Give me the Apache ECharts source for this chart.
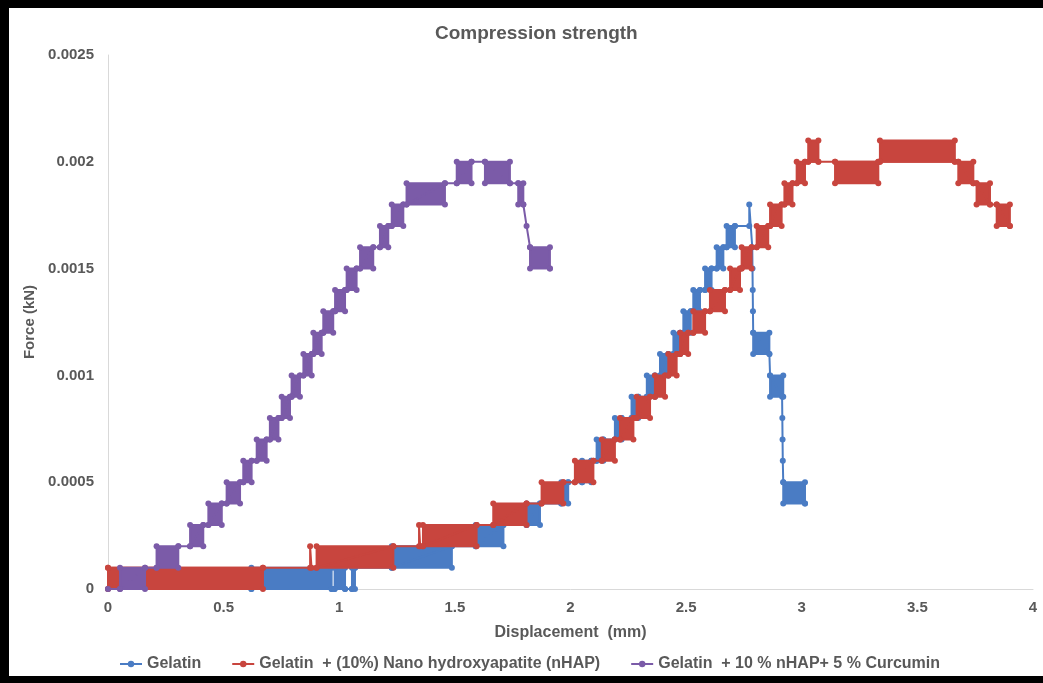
<!DOCTYPE html>
<html>
<head>
<meta charset="utf-8">
<script src="https://cdn.jsdelivr.net/npm/echarts@6/dist/echarts.min.js"></script>
<style>
html, body { margin: 0; padding: 0; background: #fff; }
#main { width: 1043px; height: 683px; }
</style>
</head>
<body>
<div id="main"></div>
<script>
// series names as in the legend
var seriesNames = ['Gelatin', 'Gelatin  + (10%) Nano hydroxyapatite (nHAP)', 'Gelatin  + 10 % nHAP+ 5 % Curcumin'];
var seriesColors = ['#4a7cc4', '#c8453e', '#7b5ba8'];

// bands = [x from, x to, low force, high force]  (the reading flickers between two levels there)
// path  = [displacement (mm), force (kN)] corners of the trace
var gelatinBands = [
    [0.62, 0.967, 0, 0.0001], [0.98, 1.025, 0, 0.0001], [1.055, 1.068, 0, 0.0001],
    [1.227, 1.487, 0.0001, 0.0002], [1.59, 1.71, 0.0002, 0.0003], [1.81, 1.868, 0.0003, 0.0004],
    [1.96, 1.99, 0.0004, 0.0005], [2.05, 2.09, 0.0005, 0.0006], [2.113, 2.142, 0.0006, 0.0007],
    [2.192, 2.221, 0.0007, 0.0008], [2.264, 2.293, 0.0008, 0.0009], [2.33, 2.365, 0.0009, 0.0010],
    [2.387, 2.423, 0.0010, 0.0011], [2.445, 2.474, 0.0011, 0.0012], [2.488, 2.52, 0.0012, 0.0013],
    [2.531, 2.56, 0.0013, 0.0014], [2.582, 2.61, 0.0014, 0.0015], [2.632, 2.661, 0.0015, 0.0016],
    [2.675, 2.711, 0.0016, 0.0017],
    [2.79, 2.86, 0.0011, 0.0012], [2.863, 2.92, 0.0009, 0.0010], [2.92, 3.014, 0.0004, 0.0005]
];
var gelatinPath = [
    [0, 0], [0.62, 0], [0.967, 0], [0.98, 0], [1.025, 0], [1.055, 0],
    [1.068, 0.0001], [1.227, 0.0001], [1.487, 0.0002], [1.59, 0.0002],
    [1.71, 0.0003], [1.81, 0.0003], [1.868, 0.0004], [1.96, 0.0004],
    [1.99, 0.0005], [2.05, 0.0005], [2.09, 0.0006], [2.113, 0.0006],
    [2.142, 0.0007], [2.192, 0.0007], [2.221, 0.0008], [2.264, 0.0008],
    [2.293, 0.0009], [2.33, 0.0009], [2.365, 0.0010], [2.387, 0.0010],
    [2.423, 0.0011], [2.445, 0.0011], [2.474, 0.0012], [2.488, 0.0012],
    [2.52, 0.0013], [2.531, 0.0013], [2.56, 0.0014], [2.582, 0.0014],
    [2.61, 0.0015], [2.632, 0.0015], [2.661, 0.0016], [2.675, 0.0016],
    [2.711, 0.0017], [2.773, 0.0017], [2.773, 0.0018], [2.786, 0.0016],
    [2.787, 0.0015], [2.788, 0.0014], [2.789, 0.0013], [2.79, 0.0012],
    [2.86, 0.0011], [2.863, 0.0010], [2.915, 0.0009], [2.916, 0.0008],
    [2.917, 0.0007], [2.918, 0.0006], [2.92, 0.0005], [3.014, 0.0004]
];

var nhapBands = [
    [0, 0.67, 0, 0.0001], [0.902, 1.234, 0.0001, 0.0002], [1.362, 1.594, 0.0002, 0.0003],
    [1.666, 1.81, 0.0003, 0.0004], [1.875, 1.969, 0.0004, 0.0005], [2.019, 2.099, 0.0005, 0.0006],
    [2.135, 2.192, 0.0006, 0.0007], [2.214, 2.272, 0.0007, 0.0008], [2.286, 2.344, 0.0008, 0.0009],
    [2.365, 2.409, 0.0009, 0.0010], [2.423, 2.459, 0.0010, 0.0011], [2.474, 2.509, 0.0011, 0.0012],
    [2.531, 2.582, 0.0012, 0.0013], [2.603, 2.668, 0.0013, 0.0014], [2.69, 2.733, 0.0014, 0.0015],
    [2.74, 2.783, 0.0015, 0.0016], [2.805, 2.855, 0.0016, 0.0017], [2.863, 2.913, 0.0017, 0.0018],
    [2.925, 2.96, 0.0018, 0.0019], [2.978, 3.014, 0.0019, 0.0020], [3.028, 3.072, 0.0020, 0.0021],
    [3.144, 3.331, 0.0019, 0.0020], [3.338, 3.662, 0.0020, 0.0021], [3.677, 3.742, 0.0019, 0.0020],
    [3.756, 3.814, 0.0018, 0.0019], [3.843, 3.90, 0.0017, 0.0018]
];
var nhapPath = [
    [0, 0.0001], [0.67, 0.0001], [0.874, 0.0001], [0.874, 0.0002], [0.88, 0.0001],
    [0.902, 0.0001], [1.234, 0.0002], [1.345, 0.0002], [1.345, 0.0003], [1.35, 0.0002],
    [1.362, 0.0002], [1.594, 0.0003], [1.666, 0.0003], [1.81, 0.0004], [1.875, 0.0004],
    [1.969, 0.0005], [2.019, 0.0005], [2.099, 0.0006], [2.135, 0.0006], [2.192, 0.0007],
    [2.214, 0.0007], [2.272, 0.0008], [2.286, 0.0008], [2.344, 0.0009], [2.365, 0.0009],
    [2.409, 0.0010], [2.423, 0.0010], [2.459, 0.0011], [2.474, 0.0011], [2.509, 0.0012],
    [2.531, 0.0012], [2.582, 0.0013], [2.603, 0.0013], [2.668, 0.0014], [2.69, 0.0014],
    [2.733, 0.0015], [2.74, 0.0015], [2.783, 0.0016], [2.805, 0.0016], [2.855, 0.0017],
    [2.863, 0.0017], [2.913, 0.0018], [2.925, 0.0018], [2.96, 0.0019], [2.978, 0.0019],
    [3.014, 0.0020], [3.028, 0.0020], [3.072, 0.0020], [3.144, 0.0020], [3.331, 0.0020],
    [3.338, 0.0020], [3.662, 0.0020], [3.677, 0.0020], [3.742, 0.0019], [3.756, 0.0019],
    [3.814, 0.0018], [3.843, 0.0018], [3.90, 0.0017]
];

var curcuminBands = [
    [0.052, 0.160, 0, 0.0001], [0.210, 0.304, 0.0001, 0.0002], [0.355, 0.412, 0.0002, 0.0003],
    [0.434, 0.492, 0.0003, 0.0004], [0.513, 0.571, 0.0004, 0.0005], [0.585, 0.621, 0.0005, 0.0006],
    [0.643, 0.686, 0.0006, 0.0007], [0.70, 0.737, 0.0007, 0.0008], [0.751, 0.787, 0.0008, 0.0009],
    [0.794, 0.830, 0.0009, 0.0010], [0.845, 0.881, 0.0010, 0.0011], [0.888, 0.924, 0.0011, 0.0012],
    [0.931, 0.974, 0.0012, 0.0013], [0.982, 1.025, 0.0013, 0.0014], [1.032, 1.075, 0.0014, 0.0015],
    [1.090, 1.147, 0.0015, 0.0016], [1.176, 1.212, 0.0016, 0.0017], [1.227, 1.277, 0.0017, 0.0018],
    [1.291, 1.457, 0.0018, 0.0019], [1.508, 1.572, 0.0019, 0.0020], [1.63, 1.738, 0.0019, 0.0020],
    [1.774, 1.796, 0.0018, 0.0019], [1.825, 1.911, 0.0015, 0.0016]
];
var curcuminPath = [
    [0, 0], [0.052, 0], [0.16, 0.0001], [0.21, 0.0001], [0.304, 0.0002], [0.355, 0.0002],
    [0.412, 0.0003], [0.434, 0.0003], [0.492, 0.0004], [0.513, 0.0004], [0.571, 0.0005],
    [0.585, 0.0005], [0.621, 0.0006], [0.643, 0.0006], [0.686, 0.0007], [0.70, 0.0007],
    [0.737, 0.0008], [0.751, 0.0008], [0.787, 0.0009], [0.794, 0.0009], [0.830, 0.0010],
    [0.845, 0.0010], [0.881, 0.0011], [0.888, 0.0011], [0.924, 0.0012], [0.931, 0.0012],
    [0.974, 0.0013], [0.982, 0.0013], [1.025, 0.0014], [1.032, 0.0014], [1.075, 0.0015],
    [1.090, 0.0015], [1.147, 0.0016], [1.176, 0.0016], [1.212, 0.0017], [1.227, 0.0017],
    [1.277, 0.0018], [1.291, 0.0018], [1.457, 0.0019], [1.508, 0.0019], [1.572, 0.0020],
    [1.63, 0.0020], [1.738, 0.0019], [1.774, 0.0019], [1.796, 0.0018], [1.81, 0.0017],
    [1.825, 0.0016], [1.911, 0.0015]
];

var bandSets = [gelatinBands, nhapBands, curcuminBands];
var pathSets = [gelatinPath, nhapPath, curcuminPath];

var labelColor = '#595959';
var fontFamily = '"Liberation Sans", Arial, sans-serif';

// filled rectangle for a flicker band, with the marker beads on its corners
function bandRenderer(color) {
    return function (params, api) {
        var tl = api.coord([api.value(0), api.value(3)]);
        var br = api.coord([api.value(1), api.value(2)]);
        var kids = [{
            type: 'rect',
            shape: { x: tl[0], y: tl[1], width: br[0] - tl[0], height: br[1] - tl[1] },
            style: { fill: color, stroke: color, lineWidth: 2 }
        }];
        [[tl[0], tl[1]], [br[0], tl[1]], [tl[0], br[1]], [br[0], br[1]]].forEach(function (c) {
            kids.push({ type: 'circle', shape: { cx: c[0], cy: c[1], r: 3 }, style: { fill: color } });
        });
        return { type: 'group', children: kids };
    };
}

var series = [];
for (var i = 0; i < 3; i++) {
    series.push({
        name: seriesNames[i],
        type: 'line',
        data: pathSets[i],
        z: 2 + i,
        symbol: 'circle',
        symbolSize: 6,
        showAllSymbol: true,
        lineStyle: { color: seriesColors[i], width: 2 },
        itemStyle: { color: seriesColors[i] },
        animation: false
    });
    series.push({
        name: seriesNames[i] + ' band',
        type: 'custom',
        data: bandSets[i],
        z: 2 + i,
        encode: { x: [0, 1], y: [2, 3] },
        renderItem: bandRenderer(seriesColors[i]),
        animation: false
    });
}

var chart = echarts.init(document.getElementById('main'));
chart.setOption({
    backgroundColor: '#fff',
    animation: false,
    title: {
        text: 'Compression strength',
        left: 430,
        top: 19,
        textStyle: { color: labelColor, fontSize: 19, fontWeight: 'bold', fontFamily: fontFamily }
    },
    legend: {
        data: seriesNames,
        top: 651,
        left: 114,
        itemWidth: 22,
        itemHeight: 8,
        itemGap: 30,
        textStyle: { color: labelColor, fontSize: 16, fontWeight: 'bold', fontFamily: fontFamily }
    },
    grid: { left: 108, right: 10, top: 55, bottom: 94 },
    xAxis: {
        type: 'value',
        min: 0,
        max: 4,
        interval: 0.5,
        name: 'Displacement  (mm)',
        nameLocation: 'middle',
        nameGap: 36,
        nameTextStyle: { color: labelColor, fontSize: 16, fontWeight: 'bold', fontFamily: fontFamily },
        axisLine: { show: true, lineStyle: { color: '#d9d9d9', width: 1 } },
        axisTick: { show: false },
        splitLine: { show: false },
        axisLabel: { color: labelColor, fontSize: 15, fontWeight: 'bold', fontFamily: fontFamily, margin: 11 }
    },
    yAxis: {
        type: 'value',
        min: 0,
        max: 0.0025,
        interval: 0.0005,
        name: 'Force (kN)',
        nameLocation: 'middle',
        nameGap: 66,
        nameTextStyle: { color: labelColor, fontSize: 15, fontWeight: 'bold', fontFamily: fontFamily },
        axisLine: { show: true, lineStyle: { color: '#d9d9d9', width: 1 } },
        axisTick: { show: false },
        splitLine: { show: false },
        axisLabel: {
            color: labelColor, fontSize: 15, fontWeight: 'bold', fontFamily: fontFamily, margin: 14,
            formatter: function (v) { return v === 0 ? '0' : String(+v.toFixed(4)); }
        }
    },
    graphic: [
        { type: 'rect', left: 0, top: 0, shape: { width: 1043, height: 8 }, style: { fill: '#000' } },
        { type: 'rect', left: 0, top: 0, shape: { width: 9, height: 683 }, style: { fill: '#000' } },
        { type: 'rect', left: 0, top: 676, shape: { width: 1043, height: 7 }, style: { fill: '#000' } }
    ],
    series: series
});
</script>
</body>
</html>
